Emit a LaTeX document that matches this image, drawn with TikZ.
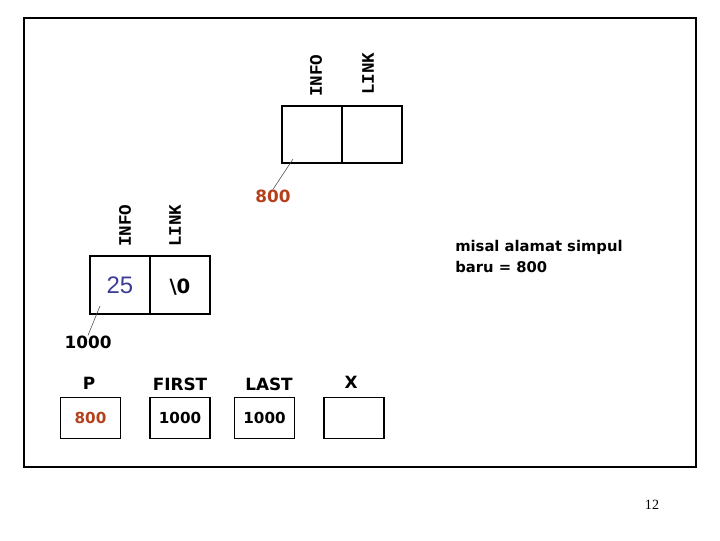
\documentclass[tikz,border=0pt]{standalone}
\usepackage{fontspec}
\setmainfont{DejaVu Sans}
\newfontfamily\monofont{Liberation Mono}
\newfontfamily\arialfont{Liberation Sans}
\newfontfamily\pagefont{Liberation Serif}
\definecolor{addrred}{RGB}{181,64,28}
\definecolor{infoblue}{RGB}{60,60,150}
\tikzset{
  cell/.style={draw, line width=1.3pt, minimum width=1.5cm, minimum height=1.43cm, inner sep=0pt},
  varbox/.style={draw, line width=0.8pt, minimum width=1.5cm, minimum height=1.03cm, inner sep=0pt},
  field/.style={font=\monofont\bfseries\fontsize{12.5}{12.5}\selectfont, rotate=90, anchor=west, inner sep=0pt},
  lbl/.style={font=\bfseries\fontsize{12}{12}\selectfont, inner sep=0pt},
  val/.style={font=\bfseries\fontsize{10.8}{10.8}\selectfont, inner sep=0pt},
  leader/.style={line width=0.4pt, black!70}
}
\begin{document}
\begin{tikzpicture}[x=0.025cm, y=-0.025cm]
    \useasboundingbox (0,0) rectangle (720,540);
    % Frame
    \draw[line width=1pt] (24,18) rectangle (696,467);
    % New node at 800
    \node[cell] (newinfo) at (312,134.5) {};
    \node[cell] (newlink) at (372,134.5) {};
    \node[field] (newinfolbl) at (316,97) {INFO};
    \node[field] (newlinklbl) at (368,95) {LINK};
    \coordinate (newpt) at (293,159);
    \node[lbl, text=addrred] (newaddr) at (273,196) {800};
    \draw[leader] (newpt) -- (newaddr.north);
    % Existing node at 1000
    \node[cell] (oldinfo) at (120,285) {\arialfont\fontsize{17}{17}\selectfont\color{infoblue}25};
    \node[cell] (oldlink) at (180,285) {};
    \node[font=\bfseries\fontsize{14}{14}\selectfont, inner sep=0pt] (oldlinkval) at (180,287) {\textbackslash 0};
    \node[field] (oldinfolbl) at (125,247) {INFO};
    \node[field] (oldlinklbl) at (175,247) {LINK};
    \coordinate (oldpt) at (100,306);
    \node[lbl] (oldaddr) at (88,342) {1000};
    \draw[leader] (oldpt) -- (oldaddr.north);
    % Note
    \node[anchor=north west, align=left, inner sep=0pt, font=\bfseries\fontsize{10.5}{15}\selectfont] (note) at (455,240) {misal alamat simpul\\baru = 800};
    % Pointer variables
    \node[varbox] (pbox) at (90.5,418) {};
    \node[varbox] (firstbox) at (180,418) {};
    \node[varbox] (lastbox) at (264.5,418) {};
    \node[varbox] (xbox) at (354,418) {};
    \node[val, text=addrred] at (pbox) {800};
    \node[val] at (firstbox) {1000};
    \node[val] at (lastbox) {1000};
    \node[lbl] (plbl) at (89,383) {P};
    \node[lbl] (firstlbl) at (180,384) {FIRST};
    \node[lbl] (lastlbl) at (269,384) {LAST};
    \node[lbl] (xlbl) at (351,382) {X};
    % Page number
    \node[font=\pagefont\fontsize{10}{10}\selectfont] (page) at (652,505) {12};
\end{tikzpicture}
\end{document}
